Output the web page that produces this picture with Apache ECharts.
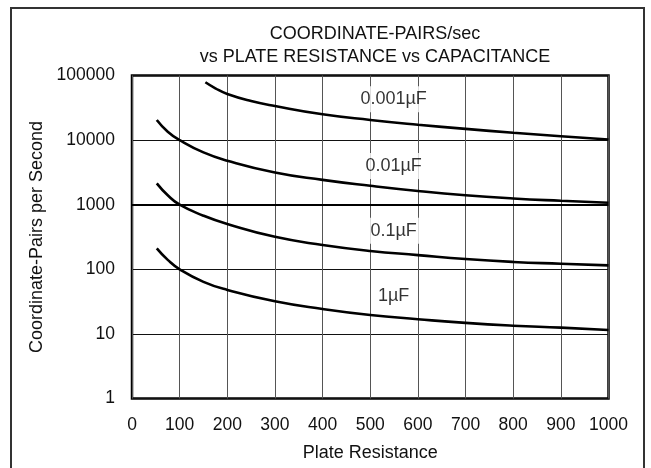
<!DOCTYPE html>
<html>
<head>
<meta charset="utf-8">
<script src="https://cdn.jsdelivr.net/npm/echarts@6/dist/echarts.min.js"></script>
<style>
html,body{margin:0;padding:0;background:#fff;}
#chart{width:651px;height:468px;}
</style>
</head>
<body>
<div id="chart"></div>
<script>
// ---- data ----
const titleLines = ['COORDINATE-PAIRS/sec', 'vs PLATE RESISTANCE vs CAPACITANCE'];
const xAxisName = 'Plate Resistance';
const yAxisName = 'Coordinate-Pairs per Second';
const xTicks = [0, 100, 200, 300, 400, 500, 600, 700, 800, 900, 1000];
const yTicks = [1, 10, 100, 1000, 10000, 100000];
const emphasisLineValue = 1000;

const seriesNames = ['0.001\u00b5F', '0.01\u00b5F', '0.1\u00b5F', '1\u00b5F'];
const rTop = [154, 175, 200, 250, 300, 400, 500, 600, 700, 800, 900, 1000];
const c0001 = [78500, 63400, 51800, 40300, 33700, 25100, 20500, 17300, 14900, 13000, 11500, 10200];
const rLow = [52, 75, 100, 150, 200, 300, 400, 500, 600, 700, 800, 900, 1000];
const c001 = [20500, 13500, 10000, 6450, 4800, 3150, 2420, 1960, 1630, 1400, 1250, 1150, 1070];
const c01 = [2140, 1400, 1000, 676, 502, 318, 238, 192, 166, 144, 130, 122, 115];
const c1 = [211, 140, 100, 64, 48, 32, 24.3, 19.6, 16.9, 14.8, 13.4, 12.5, 11.5];

const labelX = [549, 549, 549, 549];
const labelY = [42800, 3960, 396, 38];

// ---- chart ----
const FONT = '"Liberation Sans", Arial, sans-serif';
const FS = 18;
const TICK_FS = 17.5;
const zip = (xs, ys) => xs.map((x, i) => [x, ys[i]]);

const curveStyle = { color: '#000', width: 2.6 };
function curve(name, xs, ys, extra) {
  return Object.assign({
    name: name,
    type: 'line',
    data: zip(xs, ys),
    smooth: 0.5,
    showSymbol: false,
    symbol: 'none',
    lineStyle: curveStyle,
    itemStyle: { color: '#000' },
    silent: true,
    z: 3
  }, extra || {});
}

const chart = echarts.init(document.getElementById('chart'), null, { renderer: 'canvas' });
chart.setOption({
  backgroundColor: '#fff',
  animation: false,
  textStyle: { fontFamily: FONT },
  title: {
    text: titleLines.join('\n'),
    left: 370,
    top: 17,
    textAlign: 'center',
    textStyle: { fontFamily: FONT, fontSize: FS, fontWeight: 'normal', color: '#111', lineHeight: 23.5 }
  },
  graphic: [{
    type: 'rect',
    shape: { x: 11, y: 8, width: 633, height: 480 },
    style: { fill: 'none', stroke: '#333', lineWidth: 2 },
    silent: true,
    z: 100
  }],
  grid: {
    left: 132, right: 42.5, top: 75.5, bottom: 69.5,
    show: true, borderColor: '#000', borderWidth: 2.5, backgroundColor: 'transparent'
  },
  xAxis: {
    type: 'value',
    min: xTicks[0], max: xTicks[xTicks.length - 1], interval: 100,
    name: xAxisName, nameLocation: 'middle', nameGap: 46,
    nameTextStyle: { fontFamily: FONT, fontSize: FS, color: '#111' },
    axisLine: { show: false },
    axisTick: { show: false },
    axisLabel: { fontFamily: FONT, fontSize: TICK_FS, color: '#111', margin: 18,
      formatter: v => String(v) },
    splitLine: { show: true, lineStyle: { color: '#555', width: 1 } }
  },
  yAxis: {
    type: 'log', logBase: 10,
    min: yTicks[0], max: yTicks[yTicks.length - 1],
    name: yAxisName, nameLocation: 'middle', nameGap: 85,
    nameTextStyle: { fontFamily: FONT, fontSize: FS, color: '#111' },
    axisLine: { show: false },
    axisTick: { show: false },
    axisLabel: { fontFamily: FONT, fontSize: TICK_FS, color: '#111', margin: 17,
      formatter: v => String(Math.round(v)) },
    splitLine: { show: true, lineStyle: { color: '#111', width: 1 } }
  },
  series: [
    curve(seriesNames[0], rTop, c0001),
    curve(seriesNames[1], rLow, c001, {
      markLine: {
        silent: true, symbol: 'none', label: { show: false },
        lineStyle: { color: '#000', width: 2.2, type: 'solid' },
        data: [{ yAxis: emphasisLineValue }]
      }
    }),
    curve(seriesNames[2], rLow, c01),
    curve(seriesNames[3], rLow, c1),
    {
      type: 'scatter',
      silent: true,
      symbolSize: 0,
      z: 4,
      itemStyle: { color: '#000' },
      data: labelX.map((x, i) => [x, labelY[i], seriesNames[i]]),
      label: {
        show: true,
        position: [0, 0],
        align: 'center',
        verticalAlign: 'middle',
        formatter: p => p.value[2],
        fontFamily: FONT, fontSize: FS, color: '#000',
        textBorderWidth: 0,
        backgroundColor: '#fff',
        padding: [4, 3]
      }
    }
  ]
});
</script>
</body>
</html>
